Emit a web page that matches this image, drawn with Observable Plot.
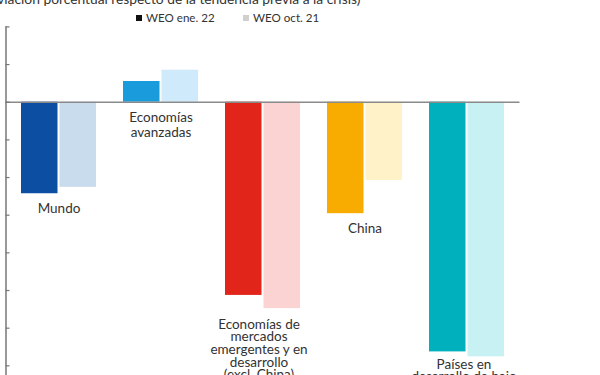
<!DOCTYPE html>
<html>
<head>
<meta charset="utf-8">
<script src="https://cdn.jsdelivr.net/npm/d3@7"></script>
<script src="https://cdn.jsdelivr.net/npm/@observablehq/plot@0.6"></script>
<style>
  html, body { margin: 0; padding: 0; background: #fff; overflow: hidden; width: 600px; height: 375px; }
  #wrap { position: relative; width: 600px; height: 375px; font-family: Lato, "Open Sans", sans-serif; color: #333; }
  #title { position: absolute; top: -9px; left: -27px; font-size: 13.8px; line-height: 16px; white-space: nowrap; }
  #legend { position: absolute; top: 10px; left: 0; width: 600px; height: 16px; font-size: 11.6px; line-height: 16px; white-space: nowrap; }
  .item { position: absolute; top: 0; }
  .sw { display: inline-block; width: 6px; height: 6px; margin-right: 4px; vertical-align: 1px; }
  #chart { position: absolute; top: 22px; left: 0; }
</style>
</head>
<body>
<div id="wrap">
  <div id="title"></div>
  <div id="legend"></div>
  <div id="chart"></div>
</div>
<script>
const titleText = "(desviación porcentual respecto de la tendencia previa a la crisis)";
const seriesNames = ["WEO ene. 22", "WEO oct. 21"];
const categories = ["Mundo", "Economías avanzadas", "Economías de mercados emergentes y en desarrollo (excl. China)", "China", "Países en desarrollo de bajo ingreso"];
const categoryLabels = ["Mundo", "Economías\navanzadas", "Economías de\nmercados\nemergentes y en\ndesarrollo\n(excl. China)", "China", "Países en\ndesarrollo de bajo\ningreso"];
const weoJan22 = [-2.43, 0.55, -5.13, -2.96, -6.63];
const weoOct21 = [-2.26, 0.85, -5.48, -2.08, -6.76];
const yTicks = [-8, -7, -6, -5, -4, -3, -2, -1, 0, 1, 2];
const darkColors = ["#0B4EA2", "#1A9BDB", "#E1251B", "#F8AB00", "#00B1BD"];
const lightColors = ["#C9DCEE", "#CFEAFB", "#FCD3D3", "#FFF1C8", "#C8F1F4"];
const legendColors = ["#111111", "#D0D0D0"];

document.getElementById("title").textContent = titleText;
const legend = document.getElementById("legend");
const legendLeft = [136, 243];
seriesNames.forEach((name, i) => {
  const el = document.createElement("span");
  el.className = "item";
  el.style.left = legendLeft[i] + "px";
  el.innerHTML = `<span class="sw" style="background:${legendColors[i]}"></span>${name}`;
  legend.appendChild(el);
});

const rows = categories.map((c, i) => ({
  cat: c,
  label: categoryLabels[i],
  jan: weoJan22[i],
  oct: weoOct21[i],
  low: Math.min(0, weoJan22[i], weoOct21[i]),
  dark: darkColors[i],
  light: lightColors[i]
}));

const textStyle = {x: "cat", y: "low", text: "label", lineAnchor: "top", fontSize: 13.5, fill: "#333"};

const chart = Plot.plot({
  width: 600,
  height: 401,
  marginLeft: 5.5,
  marginRight: 80.5,
  marginTop: 4.4,
  marginBottom: 20,
  style: {fontFamily: "Lato, 'Open Sans', sans-serif", color: "#333", background: "transparent"},
  x: {domain: categories, paddingInner: 0.26, paddingOuter: 0.131, axis: null},
  y: {domain: [-8, 2], axis: null},
  color: {type: "identity"},
  marks: [
    Plot.barY(rows, {x: "cat", y: "jan", fill: "dark", insetRight: 38.5}),
    Plot.barY(rows, {x: "cat", y: "oct", fill: "light", insetLeft: 38.5}),
    Plot.ruleY([0], {stroke: "#8a8a8a", strokeWidth: 1.5}),
    Plot.frame({anchor: "left", stroke: "#777", strokeWidth: 1.5}),
    Plot.axisY({ticks: yTicks, tickSize: -4, tickFormat: () => "", stroke: "#777", strokeWidth: 1.2}),
    Plot.text(rows.filter(d => d.cat === categories[0] || d.cat === categories[3]), {...textStyle, dy: 9.5}),
    Plot.text(rows.filter(d => d.cat === categories[1]), {...textStyle, dy: 9, lineHeight: 1.11}),
    Plot.text(rows.filter(d => d.cat === categories[2]), {...textStyle, dy: 11, dx: -4, lineHeight: 0.94}),
    Plot.text(rows.filter(d => d.cat === categories[4]), {...textStyle, dy: 3, dx: -3, lineHeight: 0.94})
  ]
});
document.getElementById("chart").appendChild(chart);
</script>
</body>
</html>
